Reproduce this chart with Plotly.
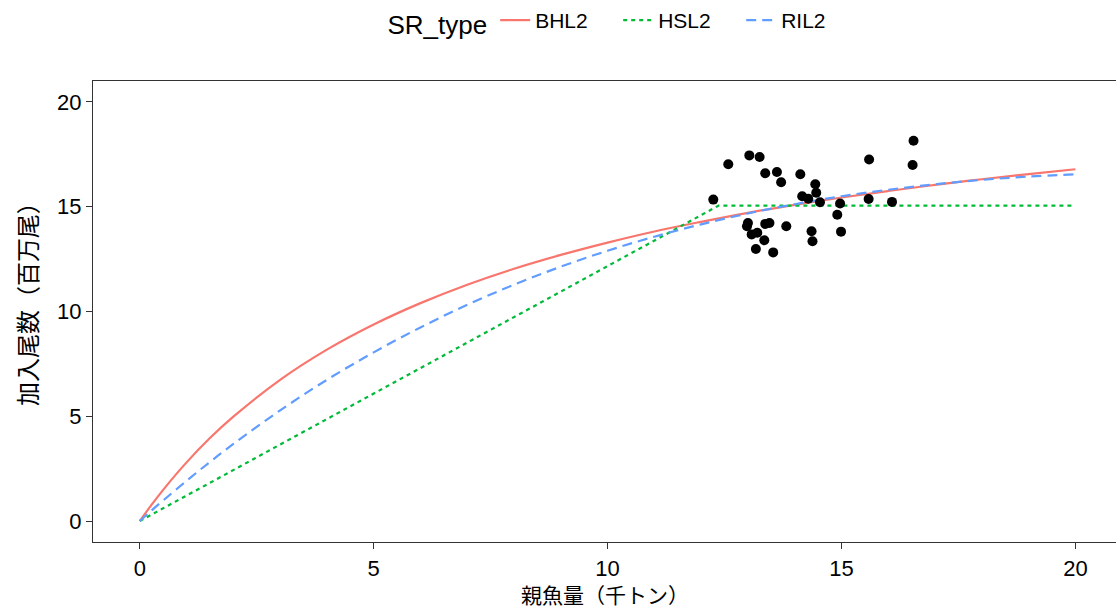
import plotly.graph_objects as go

# Observed spawner (thousand t) / recruit (million fish) pairs
ssb_obs = [12.58, 13.03, 13.25, 13.37, 13.62, 13.71, 14.12, 14.44, 14.46, 14.16,
           14.29, 14.54, 14.97, 14.91, 14.99, 14.36, 14.38, 13.82, 13.54, 13.17,
           13.35, 13.20, 13.08, 12.98, 13.00, 13.37, 13.46, 12.26, 15.58, 15.59,
           16.08, 16.54, 16.52]
rec_obs = [17.03, 17.45, 17.37, 16.60, 16.66, 16.17, 16.55, 16.07, 15.67, 15.50,
           15.38, 15.21, 15.15, 14.62, 13.81, 13.83, 13.35, 14.07, 12.82, 12.98,
           13.40, 13.76, 13.68, 14.07, 14.22, 14.18, 14.22, 15.34, 15.37, 17.25,
           15.23, 18.15, 16.99]

# Fitted stock-recruitment curves
ssb_grid = [0, 0.25, 0.5, 1, 1.5, 2, 3, 4, 5, 6, 7, 8, 9, 10,
            11, 12, 13, 14, 15, 16, 17, 18, 19, 20]
bhl2 = [0, 0.77, 1.49, 2.80, 3.96, 4.98, 6.74, 8.18, 9.38, 10.40, 11.28, 12.04,
        12.70, 13.29, 13.82, 14.28, 14.71, 15.09, 15.44, 15.75, 16.04, 16.31,
        16.56, 16.79]
ril2 = [0, 0.50, 0.98, 1.92, 2.82, 3.68, 5.28, 6.74, 8.05, 9.24, 10.32, 11.28,
        12.14, 12.90, 13.57, 14.16, 14.68, 15.12, 15.50, 15.81, 16.07, 16.28,
        16.44, 16.55]
hsl2_x = [0, 12.37, 20]
hsl2_y = [0, 15.05, 15.05]

series_names = ["BHL2", "HSL2", "RIL2"]
series_colors = ["#F8766D", "#00BA38", "#619CFF"]

x_ticks = [0, 5, 10, 15, 20]
y_ticks = [0, 5, 10, 15, 20]

x_title = "親魚量（千トン）"
y_title = "加入尾数（百万尾）"

fig = go.Figure()

fig.add_trace(go.Scatter(
    x=ssb_grid, y=bhl2, mode="lines", name=series_names[0],
    line=dict(color=series_colors[0], width=2.2, shape="spline"),
))
fig.add_trace(go.Scatter(
    x=hsl2_x, y=hsl2_y, mode="lines", name=series_names[1],
    line=dict(color=series_colors[1], width=2.2, dash="4px,4px"),
))
fig.add_trace(go.Scatter(
    x=ssb_grid, y=ril2, mode="lines", name=series_names[2],
    line=dict(color=series_colors[2], width=2.2, dash="10px,6px", shape="spline"),
))
fig.add_trace(go.Scatter(
    x=ssb_obs, y=rec_obs, mode="markers", showlegend=False,
    marker=dict(color="black", size=10),
))

axis_common = dict(
    showgrid=False, zeroline=False, showline=True, linecolor="#333333",
    linewidth=1.4, ticks="outside", ticklen=6, tickwidth=1.2,
    tickcolor="#333333", tickfont=dict(family="Liberation Sans, Arial", size=22, color="black"),
)

fig.update_xaxes(
    range=[-1, 20.868], tickvals=x_ticks, ticktext=[str(v) for v in x_ticks],
    mirror=True, **axis_common,
)
fig.update_yaxes(
    range=[-1, 21], tickvals=y_ticks, ticktext=[str(v) for v in y_ticks],
    **axis_common,
)

# Axis titles placed as annotations for precise positioning
fig.add_annotation(
    text=x_title, xref="paper", yref="paper", x=0.5, y=-0.1128,
    xanchor="center", yanchor="middle", showarrow=False,
    font=dict(family="Noto Sans CJK JP", size=21, color="black"),
)
fig.add_annotation(
    text=y_title, xref="paper", yref="paper", x=-0.0655, y=0.529,
    xanchor="center", yanchor="middle", showarrow=False, textangle=-90,
    font=dict(family="Noto Sans CJK JP", size=24, color="black"),
)

fig.update_layout(
    width=1116, height=610,
    margin=dict(l=93, r=0, t=81, b=68),
    plot_bgcolor="white", paper_bgcolor="white",
    legend=dict(
        orientation="h", x=0.52, xanchor="center",
        yref="container", y=0.964, yanchor="middle",
        title=dict(text="SR_type", font=dict(family="Liberation Sans, Arial", size=26, color="black")),
        font=dict(family="Liberation Sans, Arial", size=21, color="black"),
        itemwidth=30, entrywidth=78, entrywidthmode="pixels",
    ),
)

fig.write_html("out.html")
